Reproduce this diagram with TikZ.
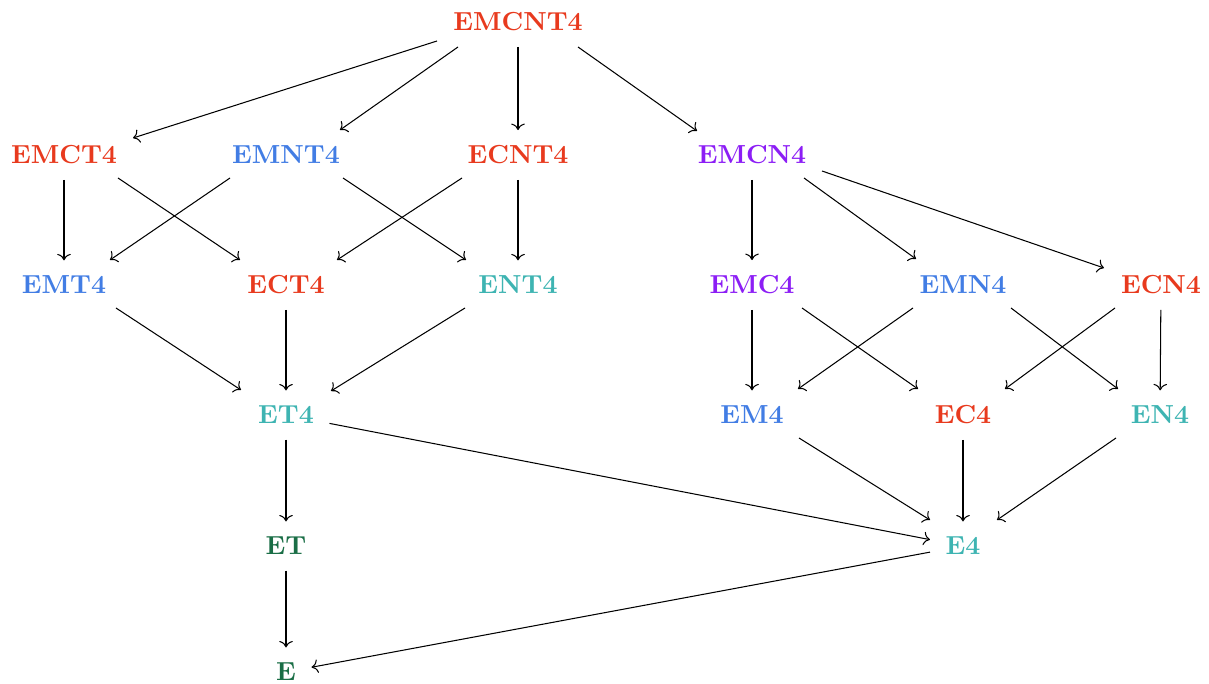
\documentclass[tikz,border=0pt]{standalone}
\usetikzlibrary{arrows.meta,calc}
\definecolor{cred}{RGB}{232,58,30}
\definecolor{cblue}{RGB}{66,125,228}
\definecolor{cpurple}{RGB}{140,30,245}
\definecolor{cteal}{RGB}{62,180,178}
\definecolor{cgreen}{RGB}{26,110,70}
\begin{document}
\begin{tikzpicture}[x=0.3831pt,y=-0.3831pt,
  lab/.style={font=\bfseries, inner sep=5.8pt},
  rd/.style={lab,text=cred},
  bl/.style={lab,text=cblue},
  pu/.style={lab,text=cpurple},
  te/.style={lab,text=cteal},
  gr/.style={lab,text=cgreen},
  conn/.style={->, line width=0.4pt}]
\useasboundingbox (0,0) rectangle (1209,684);
\node[rd] (EMCNT4) at (518,22) {EMCNT4};
\node[rd] (EMCT4) at (64,155) {EMCT4};
\node[bl] (EMNT4) at (286,155) {EMNT4};
\node[rd] (ECNT4) at (518,155) {ECNT4};
\node[pu] (EMCN4) at (752,155) {EMCN4};
\node[bl] (EMT4) at (64,285) {EMT4};
\node[rd] (ECT4) at (286,285) {ECT4};
\node[te] (ENT4) at (518,285) {ENT4};
\node[pu] (EMC4) at (752,285) {EMC4};
\node[bl] (EMN4) at (963,285) {EMN4};
\node[rd] (ECN4) at (1161,285) {ECN4};
\node[te] (ET4) at (286,415) {ET4};
\node[bl] (EM4) at (752,415) {EM4};
\node[rd] (EC4) at (963,415) {EC4};
\node[te] (EN4) at (1160,415) {EN4};
\node[gr] (ET) at (286,546) {ET};
\node[te] (E4) at (963,546) {E4};
\node[gr] (E) at (286,672) {E};
% straight connectors between node borders
\foreach \a/\b in {EMCNT4/ECNT4, EMCT4/EMT4, ECNT4/ENT4, EMCN4/EMC4,
  ECT4/ET4, EMC4/EM4, ECN4/EN4, EC4/E4, ET4/ET, ET/E, ET4/E4, E4/E}
  \draw[conn] (\a) -- (\b);
% connectors with offset end points (offsets from node centres)
\foreach \a/\sx/\sy/\b/\ex/\ey in {
  EMCNT4/-81/19/EMCT4/69/-17,
  EMCNT4/-60/25/EMNT4/54/-25,
  EMCNT4/60/25/EMCN4/-55/-24,
  EMCT4/54/23/ECT4/-46/-25,
  EMNT4/-56/23/EMT4/46/-25,
  EMNT4/57/23/ENT4/-52/-25,
  ECNT4/-56/23/ECT4/51/-25,
  EMCN4/52/23/EMN4/-47/-26,
  EMCN4/70/16/ECN4/-57/-17,
  EMT4/52/23/ET4/-45/-25,
  ENT4/-53/23/ET4/45/-24,
  EMC4/50/23/EC4/-45/-26,
  EMN4/-50/23/EM4/46/-26,
  EMN4/48/23/EN4/-42/-26,
  ECN4/-46/23/EC4/42/-26,
  EM4/47/23/E4/-33/-26,
  EN4/-44/23/E4/34/-26}
  \draw[conn] ($(\a)+(\sx,\sy)$) -- ($(\b)+(\ex,\ey)$);
\end{tikzpicture}
\end{document}
